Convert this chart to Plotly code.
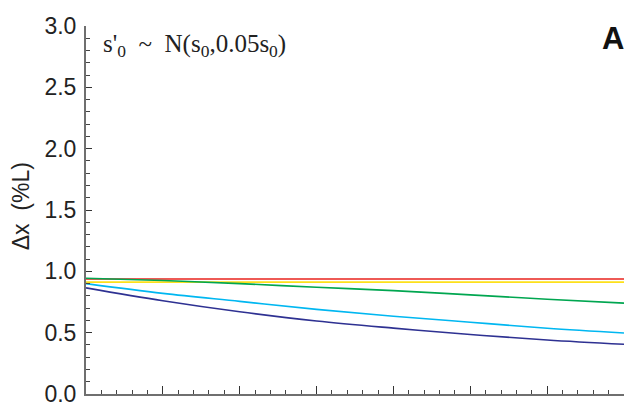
import plotly.graph_objects as go

x = [0, 1, 2, 3, 4, 5, 6, 7]
red = [0.937, 0.937, 0.937, 0.937, 0.937, 0.937, 0.937, 0.937]
yellow = [0.912, 0.912, 0.912, 0.912, 0.912, 0.912, 0.912, 0.912]
green = [0.944, 0.925, 0.900, 0.870, 0.843, 0.808, 0.773, 0.741]
cyan = [0.900, 0.820, 0.755, 0.690, 0.634, 0.585, 0.536, 0.497]
navy = [0.865, 0.760, 0.670, 0.595, 0.537, 0.485, 0.440, 0.405]

series = [
    ("red", red, "#E8231E"),
    ("yellow", yellow, "#FDE01A"),
    ("green", green, "#00A650"),
    ("cyan", cyan, "#00B7F1"),
    ("navy", navy, "#2E3192"),
]

fig = go.Figure()
for name, ys, col in series:
    fig.add_trace(go.Scatter(x=x, y=ys, mode="lines", name=name,
                             line=dict(color=col, width=1.6, shape="spline"),
                             showlegend=False))

axis_col = "#6f6f6f"
fig.update_layout(
    width=629, height=412,
    margin=dict(l=86, r=5, t=26, b=8),
    paper_bgcolor="white", plot_bgcolor="white",
    font=dict(family="Liberation Sans, Arial", size=22, color="#222"),
    xaxis=dict(range=[0, 7], dtick=1, showticklabels=False, showgrid=False,
               zeroline=False, showline=True, linecolor=axis_col, linewidth=2,
               ticks="inside", ticklen=8, tickwidth=1.2, tickcolor="#333",
               minor=dict(dtick=0.2, ticks="inside", ticklen=4, tickwidth=1, tickcolor="#444")),
    yaxis=dict(range=[0, 3.0], dtick=0.5, tickformat=".1f", showgrid=False,
               zeroline=False, showline=True, linecolor=axis_col, linewidth=2,
               ticks="inside", ticklen=6, tickwidth=1.2, tickcolor="#333",
               tickfont=dict(family="Liberation Sans, Arial", size=23, color="#222"),
               ticklabelstandoff=3, ticklabeloverflow="allow",
               minor=dict(dtick=0.1, ticks="inside", ticklen=4, tickwidth=1, tickcolor="#444")),
)

fig.add_annotation(xref="paper", yref="paper", x=(21 - 86) / 538, y=0.51,
                   xanchor="center", yanchor="middle",
                   text="Δx  (%L)", textangle=-90, showarrow=False,
                   font=dict(family="Liberation Sans, Arial", size=23, color="#222"))
fig.add_annotation(xref="paper", yref="paper", x=(101 - 86) / 538, y=1.0 - (46 - 26) / 378,
                   xanchor="left", yanchor="middle",
                   text="s'<sub>0</sub>&nbsp; ~ &nbsp;N(s<sub>0</sub>,0.05s<sub>0</sub>)", showarrow=False,
                   font=dict(family="Liberation Serif, Times New Roman", size=25, color="#222"))
fig.add_annotation(xref="paper", yref="paper", x=1.0 + 2 / 538, y=1.0 - (39 - 26) / 378,
                   xanchor="right", yanchor="middle",
                   text="<b>A</b>", showarrow=False,
                   font=dict(family="Liberation Sans, Arial", size=31, color="#111"))

fig.write_html("out.html")
